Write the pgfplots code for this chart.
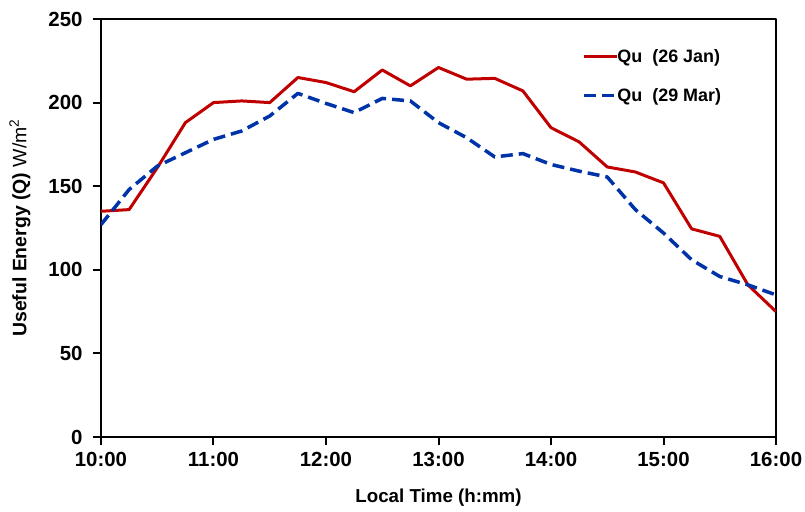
\documentclass[border=0pt]{standalone}
\usepackage{fontspec}
\setmainfont{Liberation Sans}
\usepackage{pgfplots}
\pgfplotsset{compat=1.18}
\definecolor{qred}{HTML}{C00000}
\definecolor{qblue}{HTML}{0033A8}
\begin{document}
\begin{tikzpicture}
\useasboundingbox (-101bp,-75bp) rectangle (704bp,437bp);
\begin{axis}[
  at={(0,0)}, anchor=south west,
  scale only axis, width=675bp, height=418bp,
  xmin=10, xmax=16, ymin=0, ymax=250,
  xtick={10,11,12,13,14,15,16},
  xticklabels={10:00,11:00,12:00,13:00,14:00,15:00,16:00},
  ytick={0,50,100,150,200,250},
  axis line style={line width=2.8bp, black},
  tick style={line width=2bp, black},
  tick align=outside, major tick length=8bp,
  tick pos=left,
  /pgf/number format/assume math mode=true,
  tick label style={font=\fontsize{20.5}{24}\selectfont\bfseries},
  xticklabel style={yshift=-4bp},
  yticklabel style={xshift=-7bp},
  xlabel={\textbf{Local Time (h:mm)}},
  ylabel={\textbf{Useful Energy (Q)} W/m\textsuperscript{2}},
  xlabel style={font=\fontsize{18.8}{22}\selectfont, at={(axis description cs:0.5,-0.1455)}, anchor=center},
  ylabel style={font=\fontsize{19.5}{22}\selectfont, at={(axis description cs:-0.12,0.5)}, anchor=center, rotate=0},
  legend style={at={(axis description cs:0.713,0.931)}, anchor=north west,
    draw=none, fill=none, font=\fontsize{18}{21}\selectfont\bfseries,
    row sep=21bp, column sep=-3bp, inner sep=0pt, nodes={inner sep=1.5bp}},
  legend cell align=left,
  legend image code/.code={\draw[#1] (0bp,0bp) -- (33bp,0bp);},
  line join=round,
]
\addplot[qred, line width=3bp] coordinates {
(10.00,135) (10.25,136) (10.50,161) (10.75,188) (11.00,200) (11.25,201)
(11.50,200) (11.75,215) (12.00,212) (12.25,206.5) (12.50,219.5) (12.75,210)
(13.00,221) (13.25,214) (13.50,214.5) (13.75,207) (14.00,185) (14.25,176.5)
(14.50,161.5) (14.75,158.5) (15.00,152) (15.25,124.5) (15.50,120) (15.75,91)
(16.00,75)};
\addlegendentry{Qu\ \ (26 Jan)}
\addplot[qblue, line width=3.5bp, dash pattern=on 12bp off 6bp] coordinates {
(10.00,127) (10.25,148) (10.50,162) (10.75,170) (11.00,178) (11.25,183)
(11.50,192) (11.75,205.5) (12.00,199.5) (12.25,194) (12.50,202.5) (12.75,201)
(13.00,188) (13.25,179) (13.50,167.5) (13.75,169.5) (14.00,163) (14.25,159)
(14.50,155.5) (14.75,136) (15.00,122) (15.25,106) (15.50,96) (15.75,91)
(16.00,85)};
\addlegendentry{Qu\ \ (29 Mar)}
\end{axis}
\end{tikzpicture}
\end{document}
